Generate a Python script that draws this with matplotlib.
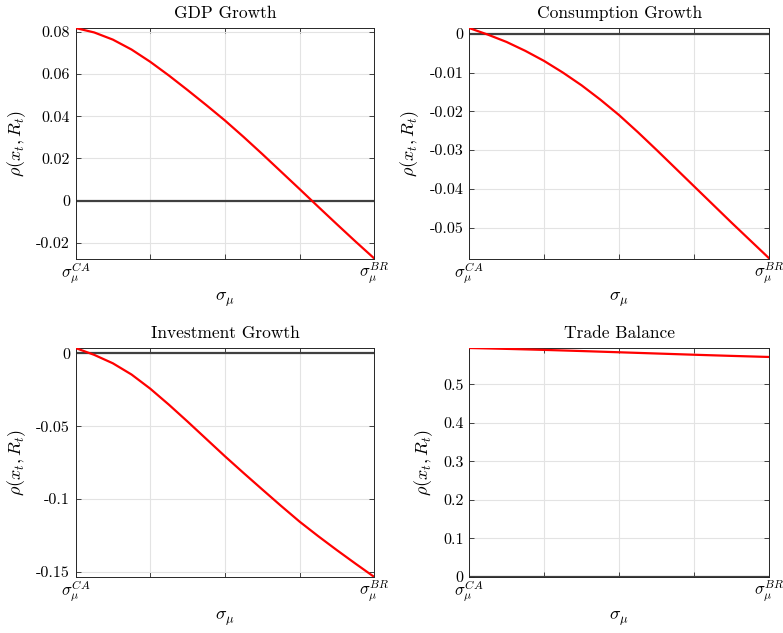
"""Correlation of each macro aggregate with the interest rate as the
volatility of the trend shock moves from the CA to the BR calibration."""

import matplotlib
matplotlib.use("Agg")
import matplotlib.pyplot as plt

plt.rcParams.update({
    "font.family": "cmr10",
    "mathtext.fontset": "cm",
    "axes.unicode_minus": False,
    "axes.formatter.use_mathtext": True,
})

# sigma_mu grid, normalised between the two calibrations (steps of 1/16)
sigma_grid = [i / 16 for i in range(17)]

gdp_growth = [0.0818, 0.0797, 0.0763, 0.0716, 0.0658, 0.0593, 0.0524, 0.0453,
              0.0380, 0.0302, 0.0221, 0.0138, 0.0055, -0.0029, -0.0112, -0.0194,
              -0.0274]
cons_growth = [0.0015, -0.0002, -0.0021, -0.0044, -0.0070, -0.0100, -0.0133, -0.0170,
               -0.0210, -0.0254, -0.0300, -0.0347, -0.0394, -0.0441, -0.0488, -0.0534,
               -0.0580]
inv_growth = [0.0037, -0.0010, -0.0068, -0.0145, -0.0242, -0.0352, -0.0468, -0.0587,
              -0.0706, -0.0821, -0.0934, -0.1046, -0.1155, -0.1255, -0.1351, -0.1444,
              -0.1535]
trade_balance = [0.5945, 0.5934, 0.5922, 0.5909, 0.5896, 0.5881, 0.5866, 0.5850,
                 0.5834, 0.5818, 0.5802, 0.5786, 0.5770, 0.5755, 0.5740, 0.5726,
                 0.5712]

panels = [
    ("GDP Growth", gdp_growth, [-0.02, 0, 0.02, 0.04, 0.06, 0.08]),
    ("Consumption Growth", cons_growth, [-0.05, -0.04, -0.03, -0.02, -0.01, 0]),
    ("Investment Growth", inv_growth, [-0.15, -0.1, -0.05, 0]),
    ("Trade Balance", trade_balance, [0, 0.1, 0.2, 0.3, 0.4, 0.5]),
]

x_ticks = [0, 0.25, 0.5, 0.75, 1]
x_ticklabels = [r"$\sigma_\mu^{CA}$", "", "", "", r"$\sigma_\mu^{BR}$"]

W, H = 783, 633
# axes boxes in pixels: left, top, right, bottom
boxes = [
    (75.5, 28, 374.3, 258.5),
    (469, 28, 769.3, 258.5),
    (75.5, 348, 374.3, 577),
    (469, 348, 769.3, 577),
]

fig = plt.figure(figsize=(W / 100, H / 100), dpi=100)

for (title, series, yticks), (l, t, r, b) in zip(panels, boxes):
    ax = fig.add_axes([l / W, 1 - b / H, (r - l) / W, (b - t) / H])
    ax.axhline(0, color="#404040", linewidth=1.6, zorder=2)
    ax.plot(sigma_grid, series, color="#ff0000", linewidth=1.6, zorder=3,
            solid_joinstyle="round")

    lo = min(min(series), 0)
    hi = max(max(series), 0)
    ax.set_xlim(0, 1)
    ax.set_ylim(lo, hi)

    ax.set_xticks(x_ticks)
    ax.set_xticklabels(x_ticklabels, fontsize=12)
    ax.set_yticks(yticks)
    ax.set_yticklabels([f"{round(v, 6):g}" for v in yticks], fontsize=11.5)

    ax.tick_params(direction="in", length=3.5, width=0.6, color="#262626",
                   top=True, right=True)
    ax.tick_params(axis="x", pad=1)
    ax.tick_params(axis="y", pad=4)
    ax.grid(True, color="#e3e3e3", linewidth=0.8, zorder=0)
    ax.set_axisbelow(True)
    for s in ax.spines.values():
        s.set_color("#262626")
        s.set_linewidth(0.7)

    ax.set_title(title, fontsize=12.5, pad=7)
    ax.set_xlabel(r"$\sigma_\mu$", fontsize=13, labelpad=4)
    ax.set_ylabel(r"$\rho(x_t, R_t)$", fontsize=13, labelpad=6)

fig.savefig("out.png", dpi=100)
